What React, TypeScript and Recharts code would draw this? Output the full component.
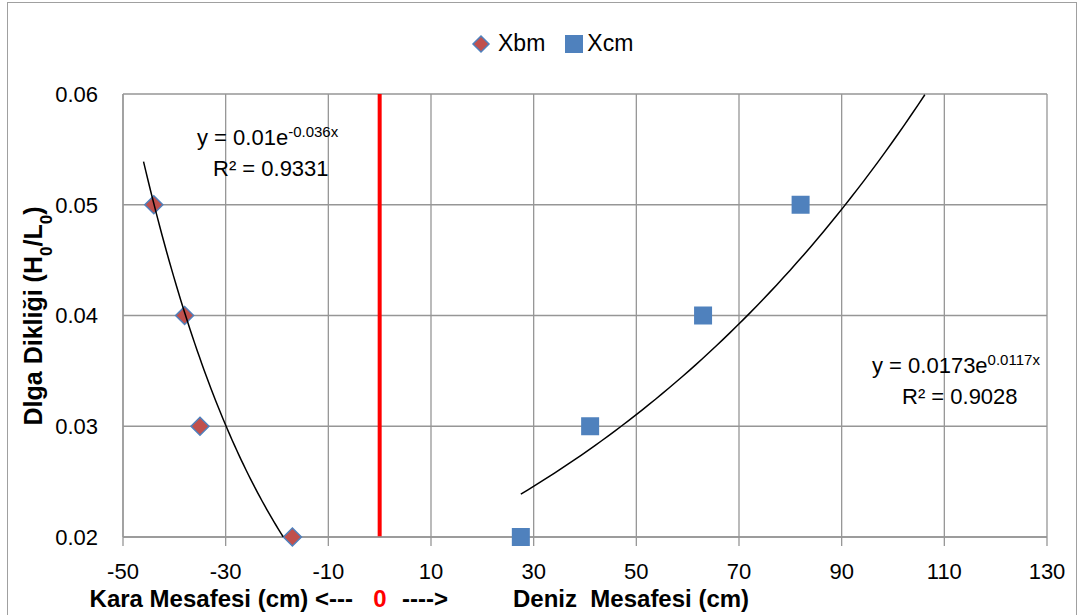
import React from "react";
import {
  CartesianGrid,
  ReferenceLine,
  Scatter,
  ScatterChart,
  XAxis,
  YAxis,
} from "recharts";

// measured points
const xbmX = [-44, -38, -35, -17];
const xbmY = [0.05, 0.04, 0.03, 0.02];
const xcmX = [27.5, 41, 63, 82];
const xcmY = [0.02, 0.03, 0.04, 0.05];

const xTicks = [-50, -30, -10, 10, 30, 50, 70, 90, 110, 130];
const yTicks = [0.02, 0.03, 0.04, 0.05, 0.06];

// exponential trendlines y = a * e^(b x) (labels show the rounded values),
// drawn from where they start to where they leave the plot area
const xbmTrend = { a: 0.0101, b: -0.0364, from: -46, to: -18.8 };
const xcmTrend = { a: 0.0173, b: 0.0117, from: 27.5, to: 106.2 };

const FONT = "'Liberation Sans', Arial, sans-serif";
const GRID = "#969696";

function toPoints(xs: number[], ys: number[]) {
  return xs.map((x, i) => ({ x, y: ys[i] }));
}

function trendPoints(t: { a: number; b: number; from: number; to: number }) {
  const pts: { x: number; y: number }[] = [];
  const steps = 60;
  for (let i = 0; i <= steps; i++) {
    const x = t.from + ((t.to - t.from) * i) / steps;
    pts.push({ x, y: t.a * Math.exp(t.b * x) });
  }
  return pts;
}

const Diamond = (props: any) => {
  const { cx, cy } = props;
  const r = 9;
  return (
    <polygon
      points={`${cx},${cy - r} ${cx + r},${cy} ${cx},${cy + r} ${cx - r},${cy}`}
      fill="#C0504D"
      stroke="#4F81BD"
      strokeWidth={1.5}
    />
  );
};

const Square = (props: any) => {
  const { cx, cy } = props;
  const s = 9;
  return <rect x={cx - s} y={cy - s} width={s * 2} height={s * 2} fill="#4F81BD" />;
};

const NoDot = () => <g />;

export default function App() {
  const xbm = toPoints(xbmX, xbmY);
  const xcm = toPoints(xcmX, xcmY);

  return (
    <div
      style={{
        position: "absolute",
        left: 0,
        top: 0,
        width: 1081,
        height: 615,
        overflow: "hidden",
        background: "#fff",
        fontFamily: FONT,
      }}
    >
      <div
        style={{
          position: "absolute",
          left: 7,
          top: 2,
          width: 1068,
          height: 660,
          border: "1.5px solid #a0a0a0",
        }}
      />
      <ScatterChart
        width={1081}
        height={615}
        margin={{ top: 94, right: 34, bottom: 48, left: 0 }}
        style={{ position: "absolute", left: 0, top: 0 }}
      >
        <CartesianGrid stroke={GRID} strokeWidth={1.3} />
        <XAxis
          type="number"
          dataKey="x"
          domain={[-50, 130]}
          ticks={xTicks}
          interval={0}
          height={30}
          tickSize={9}
          tickMargin={17}
          axisLine={{ stroke: GRID, strokeWidth: 1.3 }}
          tickLine={{ stroke: GRID, strokeWidth: 1.3 }}
          tick={{ fill: "#000", fontSize: 22, fontFamily: FONT }}
        />
        <YAxis
          type="number"
          dataKey="y"
          domain={[0.02, 0.06]}
          ticks={yTicks}
          width={123}
          tickSize={0}
          tickMargin={25}
          tickLine={false}
          axisLine={{ stroke: GRID, strokeWidth: 1.3 }}
          tickFormatter={(v: number) => v.toFixed(2)}
          tick={{ fill: "#000", fontSize: 22, fontFamily: FONT }}
        />
        <ReferenceLine x={0} stroke="#FF0000" strokeWidth={4} />
        <Scatter name="Xbm" data={xbm} shape={Diamond} isAnimationActive={false} />
        <Scatter name="Xcm" data={xcm} shape={Square} isAnimationActive={false} />
        <Scatter
          data={trendPoints(xbmTrend)}
          line={{ stroke: "#000", strokeWidth: 1.5 }}
          shape={NoDot}
          legendType="none"
          isAnimationActive={false}
        />
        <Scatter
          data={trendPoints(xcmTrend)}
          line={{ stroke: "#000", strokeWidth: 1.5 }}
          shape={NoDot}
          legendType="none"
          isAnimationActive={false}
        />
      </ScatterChart>

      {/* legend */}
      <div
        style={{
          position: "absolute",
          left: 471,
          top: 30,
          display: "flex",
          alignItems: "center",
          fontSize: 23,
          color: "#000",
        }}
      >
        <svg width={20} height={20}>
          <polygon points="10,2 18,10 10,18 2,10" fill="#C0504D" stroke="#4F81BD" strokeWidth={1.5} />
        </svg>
        <span style={{ marginLeft: 7 }}>Xbm</span>
        <svg width={18} height={18} style={{ marginLeft: 20 }}>
          <rect x={0} y={0} width={18} height={18} fill="#4F81BD" />
        </svg>
        <span style={{ marginLeft: 4 }}>Xcm</span>
      </div>

      <svg
        width={1081}
        height={615}
        style={{ position: "absolute", left: 0, top: 0, pointerEvents: "none" }}
        fontFamily={FONT}
      >
        <text x={197} y={145} fontSize={22} fill="#000">
          y = 0.01e
          <tspan fontSize={15} baselineShift="super">-0.036x</tspan>
        </text>
        <text x={213} y={176} fontSize={22} fill="#000">
          R² = 0.9331
        </text>
        <text x={872} y={373} fontSize={22} fill="#000">
          y = 0.0173e
          <tspan fontSize={15} baselineShift="super">0.0117x</tspan>
        </text>
        <text x={902} y={404} fontSize={22} fill="#000">
          R² = 0.9028
        </text>

        <text
          transform="rotate(-90)"
          x={-316}
          y={42}
          textAnchor="middle"
          fontSize={25}
          fontWeight="bold"
          fill="#000"
        >
          Dlga Dikliği (H<tspan fontSize={17} baselineShift="sub">0</tspan>/L
          <tspan fontSize={17} baselineShift="sub">0</tspan>)
        </text>

        <text x={353} y={607} textAnchor="end" fontSize={24} fontWeight="bold" fill="#000">
          Kara Mesafesi (cm) &lt;---
        </text>
        <text x={380} y={607} textAnchor="middle" fontSize={24} fontWeight="bold" fill="#FF0000">
          0
        </text>
        <text x={402} y={607} fontSize={24} fontWeight="bold" fill="#000">
          ----&gt;
        </text>
        <text x={513} y={607} fontSize={24} fontWeight="bold" fill="#000" style={{ whiteSpace: "pre" }}>
          {"Deniz  Mesafesi (cm)"}
        </text>
      </svg>
    </div>
  );
}
